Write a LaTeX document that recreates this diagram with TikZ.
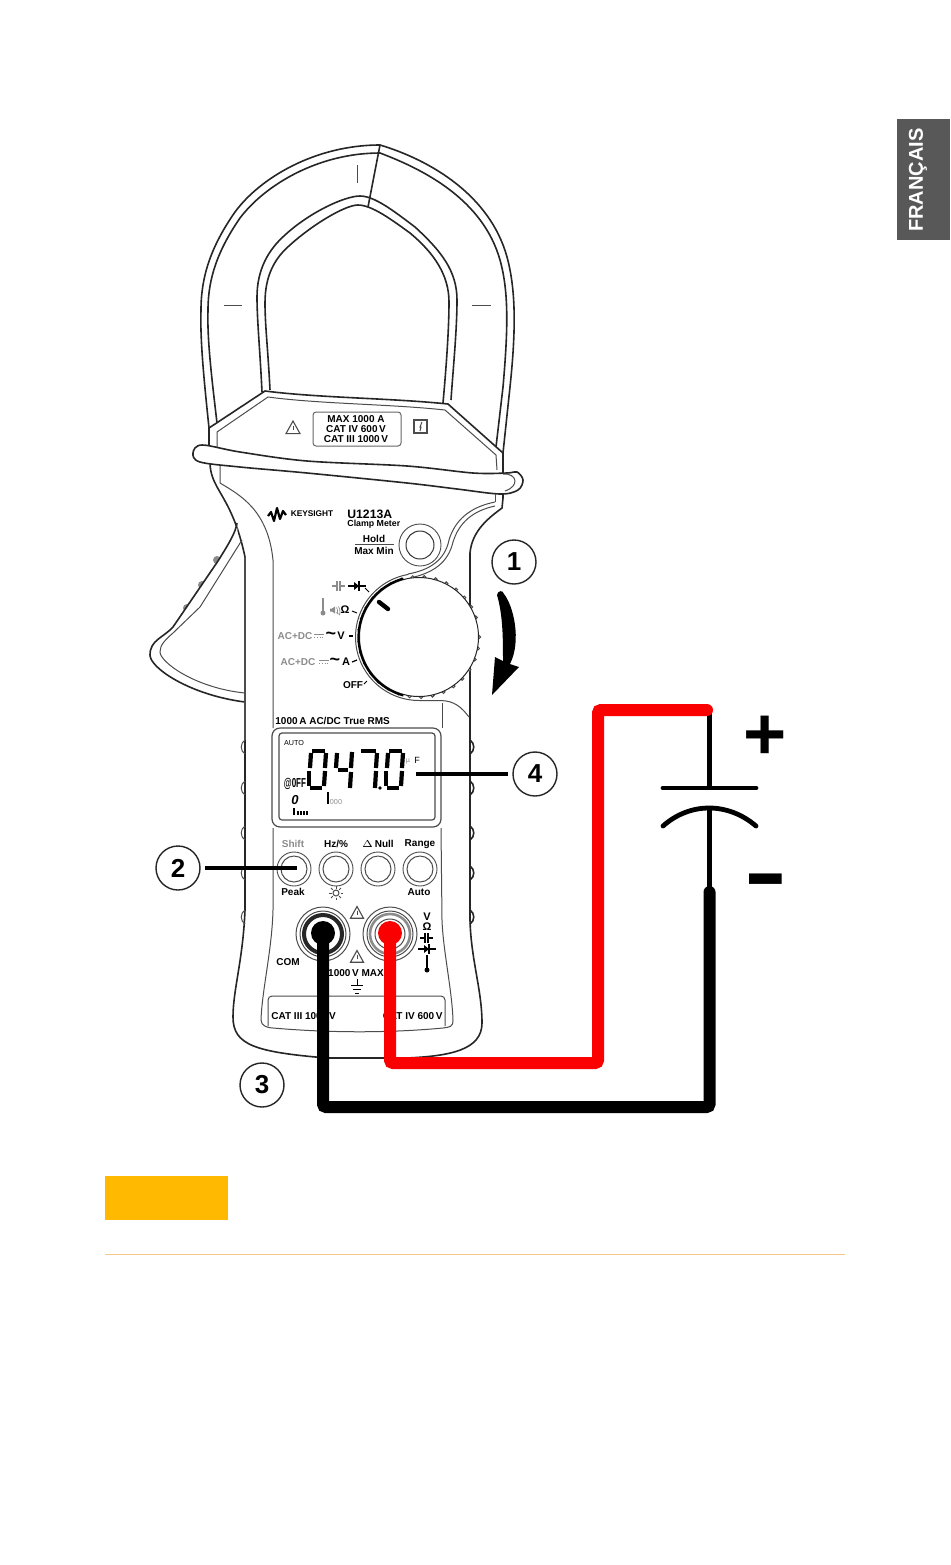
\documentclass[tikz,border=0pt]{standalone}
\usepackage{fontspec}
\setmainfont{Liberation Sans}
\definecolor{tabgray}{HTML}{585858}
\definecolor{warnyellow}{HTML}{FFB900}
\definecolor{ruleorange}{HTML}{F6C88C}
\definecolor{wirered}{HTML}{FA0000}
\newcommand{\fsz}[1]{\fontsize{#1}{#1}\selectfont}
\tikzset{
  bodyline/.style={draw=black!85,line width=0.8pt},
  thinline/.style={draw=black!70,line width=0.5pt},
  lbl/.style={inner sep=0pt,font=\bfseries\fsz{5}},
  graylbl/.style={lbl,text=black!45},
  callout/.style={circle,draw=black!85,line width=0.7pt,fill=white,minimum size=22pt,inner sep=0pt,font=\bfseries\fsz{13}},
  leader/.style={draw=black,line width=1.7pt},
  wire/.style={line width=6pt,line cap=round,rounded corners=1.5pt},
  lead/.style={draw=black,line width=2.4pt},
  lcdseg/.style={draw=black,line width=2.1pt},
}
\newcommand{\drawdigit}[2]{ % Parameters: left edge, segment list
  \foreach \ax/\ay/\bx/\by in #2
    \draw[lcdseg] (#1+\ax,\ay) -- (#1+\bx,\by);
}
\newcommand{\segzero}{5/751/18/751, 19/753/18/768, 18/771/17/786, 3/788/15/788, 2/786/2/771, 3/768/4/753}
\newcommand{\segfour}{4/753/3/768, 5/770/15/770, 19/752/18/768, 18/772/17/788}
\newcommand{\segseven}{3/751/18/751, 19/753/18/768, 18/771/17/788}
\newcommand{\drawwarn}[3]{ % Parameters: x, y, half width
  \draw[thinline,line width=0.55pt,fill=white] (#1,#2) ++(-#3,#3*0.8) -- ++(2*#3,0) -- ++(-#3,-1.8*#3) -- cycle;
  \draw[thinline] (#1,#2) ++(0,-#3*0.35) -- ++(0,#3*0.7);
}
\newcommand{\drawcap}[3]{ % Parameters: x, y, color
  \draw[draw=#3,line width=0.7pt] (#1,#2) ++(-7,0) -- ++(5,0) ++(0,-5) -- ++(0,10) ++(3,0) -- ++(0,-10) ++(0,5) -- ++(5,0);
}
\newcommand{\drawdiode}[2]{ % Parameters: x, y
  \fill[black] (#1,#2) ++(-3,-4) -- ++(5,4) -- ++(-5,4) -- cycle;
  \draw[draw=black,line width=0.7pt] (#1,#2) ++(-9,0) -- ++(18,0) ++(-7,-5) -- ++(0,10);
}
\newcommand{\drawthermo}[3]{ % Parameters: x, y, color
  \draw[draw=#3,line width=0.9pt] (#1,#2) -- ++(0,-15);
  \fill[#3] (#1,#2) circle[radius=2.5];
}
\newcommand{\drawdcsign}[2]{ % Parameters: x, y
  \draw[draw=black!45,line width=0.4pt] (#1,#2) ++(-5,-1.5) -- ++(10,0);
  \draw[draw=black!45,line width=0.4pt,densely dotted] (#1,#2) ++(-5,1.5) -- ++(10,0);
}
\newcommand{\drawbeeper}[2]{ % Parameters: x, y
  \fill[black!45] (#1,#2) ++(-4,-1.5) -- ++(2,0) -- ++(3,-2) -- ++(0,7) -- ++(-3,-2) -- ++(-2,0) -- cycle;
  \draw[draw=black!45,line width=0.35pt] (#1,#2) ++(2.5,-2.5) .. controls +(1.5,1) and +(1.5,4) .. +(0,5);
  \draw[draw=black!45,line width=0.35pt] (#1,#2) ++(4.5,-3.5) .. controls +(2,2) and +(2,5) .. +(0,7);
}
\begin{document}
\begin{tikzpicture}[x=0.5pt,y=-0.5pt]
  \useasboundingbox (0,0) rectangle (950,1565);
  \fill[white] (0,0) rectangle (950,1565);
  % side tab
  \fill[tabgray] (897,119) rectangle (950,240);
  \node[inner sep=0pt,rotate=90,text=white,font=\bfseries\fsz{10}] (tabtext) at (918,180) {FRANÇAIS};
  % jaw
  \draw[bodyline] (209,428) .. controls (204,380) and (200,340) .. (201,310) .. controls (201,275) and (212,245) .. (235,212) .. controls (260,178) and (315,145) .. (380,145) .. controls (430,160) and (490,195) .. (507,257) .. controls (516,290) and (516,330) .. (510,387) -- (503,453);
  \draw[bodyline] (217,423) .. controls (212,380) and (207,340) .. (208,310) .. controls (208,278) and (218,250) .. (240,218) .. controls (265,185) and (318,153) .. (380,153) .. controls (425,170) and (483,200) .. (500,260) .. controls (509,292) and (508,330) .. (503,387) -- (496,447);
  \draw[bodyline] (262,392) .. controls (260,350) and (257,320) .. (257,297) .. controls (257,270) and (268,250) .. (285,235) .. controls (310,212) and (345,196) .. (360,196) .. controls (375,196) and (395,212) .. (415,227) .. controls (440,250) and (457,270) .. (457,300) .. controls (457,330) and (453,370) .. (451,400);
  \draw[bodyline] (270,390) .. controls (268,350) and (265,325) .. (265,303) .. controls (265,275) and (275,258) .. (290,245) .. controls (312,225) and (345,205) .. (358,205) .. controls (372,205) and (392,220) .. (410,233) .. controls (434,253) and (449,275) .. (449,302) .. controls (449,330) and (446,370) .. (443,403);
  \draw[bodyline] (380,145) -- (368,207);
  \draw[thinline] (357,165) -- ++(0,18);
  \draw[thinline] (224,305) -- ++(18,0);
  \draw[thinline] (472,305) -- ++(19,0);
  % head of the meter
  \draw[bodyline] (209,462) -- (209,428) -- (265,391) .. controls (320,398) and (390,398) .. (448,404) -- (503,453) -- (503,498);
  \draw[thinline] (217,447) -- (217,432) -- (268,397) .. controls (320,404) and (390,404) .. (445,410) -- (496,455) -- (497,470);
  \node[draw=black!60,line width=0.5pt,rounded corners=1.5pt,fill=white,minimum width=44pt,minimum height=17pt,inner sep=0pt] (ratingbox) at (357,429) {};
  \node[lbl] (ratinga) at (356,419) {MAX 1000 A};
  \node[lbl] (ratingb) at (356,429) {CAT IV 600\,V};
  \node[lbl] (ratingc) at (356,439) {CAT III 1000\,V};
  \drawwarn{293}{428}{7}
  \draw[thinline,line width=0.55pt] (414,420) rectangle (427,433);
  \draw[thinline] (422,422) -- (420,427) -- (421,427) -- (420,431);
  % body outline
  \draw[bodyline] (210,462) .. controls (210,490) and (232,495) .. (245,557) -- (245,910) .. controls (243,960) and (233,990) .. (233,1017) .. controls (233,1045) and (255,1052) .. (327,1058) -- (407,1058) .. controls (450,1056) and (482,1050) .. (482,1023) .. controls (482,990) and (471,960) .. (470,920) -- (470,553) .. controls (472,530) and (490,517) .. (502,508) -- (503,498);
  \foreach \y in {747,788,833,873,917} {
    \draw[thinline] (245,\y-7) .. controls (240,\y-4) and (240,\y+4) .. (245,\y+7);
    \draw[bodyline] (470,\y-7) .. controls (475,\y-4) and (475,\y+4) .. (470,\y+7);
  }
  % trigger
  \foreach \tx/\ty in {217/560,202/585,187/608}
    \fill[black!45] (\tx,\ty) circle[radius=4];
  \draw[bodyline,fill=white] (237,523) .. controls (236,532) and (228,545) .. (218,561) -- (173,627) .. controls (163,638) and (150,640) .. (150,655) .. controls (150,668) and (190,695) .. (245,702);
  \draw[thinline] (242,540) -- (200,607) -- (173,633) .. controls (165,640) and (160,645) .. (160,652) .. controls (160,662) and (195,688) .. (245,693);
  \draw[thinline,line width=0.6pt] (245,557) -- (245,740);
  % front panel
  \draw[thinline] (220,463) -- (220,483) .. controls (240,495) and (268,510) .. (273,560) -- (273,728);
  \draw[thinline] (273,828) -- (273,910) .. controls (272,950) and (262,990) .. (261,1020) .. controls (261,1026) and (268,1028) .. (273,1028) .. controls (330,1033) and (390,1033) .. (443,1028) .. controls (450,1027) and (453,1027) .. (453,1020) .. controls (452,990) and (443,950) .. (442,920) -- (441,828);
  \draw[thinline,rounded corners=2pt] (268,1026) -- (268,996) -- (445,996) -- (445,1026);
  % flange
  \draw[bodyline,fill=white] plot[smooth cycle,tension=0.55] coordinates {(202,445) (240,452) (307,461) (407,466) (473,473) (507,473) (517,472) (523,480) (518,490) (500,494) (457,489) (407,483) (307,473) (240,467) (200,462) (193,453)};
  \draw[thinline] (503,474) .. controls (517,473) and (520,486) .. (505,491);
  \draw[bodyline] (503,494) -- (503,498);
  \draw[thinline] (495,494) -- (495,502);
  % dial
  \draw[thinline] (495,502) .. controls (470,507) and (455,520) .. (449,540) .. controls (445,560) and (430,570) .. (408,574)
    -- plot[domain=260:90,samples=40] ({419+63.5*cos(\x)},{637+63.5*sin(\x)}) -- (440,700.5) .. controls (455,700.5) and (462,708) .. (469,717);
  \draw[thinline] (495,506) .. controls (472,511) and (459,523) .. (453,542) .. controls (448,563) and (433,573) .. (410,578);
  \foreach \a in {0,11,...,350}
    \draw[thinline,fill=white] (419,637) ++(\a:60) circle[radius=1.6];
  \fill[white] (419,637) circle[radius=59.5];
  \draw[bodyline,line width=0.5pt] (419,637) circle[radius=59.5];
  \draw[draw=black,line width=1.1pt] plot[domain=255:105,samples=40] ({419+60.5*cos(\x)},{637+60.5*sin(\x)});
  \draw[draw=black,line width=2.2pt,line cap=round] (379,602) -- (388,609);
  \draw[thinline] (442,703) -- (442,728);
  % logo and hold button
  \draw[draw=black,line width=1.1pt,line join=round] (268,516) -- (271,512) -- (274,521) -- (277,508) -- (280,519) -- (283,511) -- (286,515);
  \node[lbl,font=\bfseries\fsz{4.15}] (brand) at (312,514) {KEYSIGHT};
  \node[lbl,font=\bfseries\fsz{6.1},anchor=west] (model) at (347,514) {U1213A};
  \node[lbl,font=\bfseries\fsz{4.4},anchor=west] (modeltype) at (347,524) {Clamp Meter};
  \node[lbl] (hold) at (374,539) {Hold};
  \draw[thinline,line width=0.5pt] (355,544) -- (394,544);
  \node[lbl] (maxmin) at (374,551) {Max Min};
  \node[circle,draw=black!70,line width=0.45pt,minimum size=21pt,inner sep=0pt] (holdring) at (420,545) {};
  \node[circle,draw=black!80,line width=0.5pt,minimum size=14pt,inner sep=0pt] (holdkey) at (420,545) {};
  % switch labels
  \drawcap{339}{586}{black!45}
  \drawdiode{357}{586}
  \draw[draw=black,line width=0.5pt] (365,588) -- (369,592);
  \drawthermo{323}{613}{black!45}
  \drawbeeper{334}{610}
  \node[lbl,font=\bfseries\fsz{5.5}] (ohm) at (345,610) {Ω};
  \draw[draw=black,line width=0.5pt] (352,611) -- (357,613);
  \node[graylbl] (acdcv) at (295,636) {AC+DC};
  \drawdcsign{319}{636}
  \node[lbl,font=\bfseries\fsz{9}] (tildev) at (331,636) {\textasciitilde};
  \node[lbl,font=\bfseries\fsz{5.5}] (volt) at (341,636) {V};
  \draw[draw=black,line width=1pt] (349,636) -- (353,636);
  \node[graylbl] (acdca) at (298,662) {AC+DC};
  \drawdcsign{324}{662}
  \node[lbl,font=\bfseries\fsz{9}] (tildea) at (335,662) {\textasciitilde};
  \node[lbl,font=\bfseries\fsz{5.5}] (amp) at (346,662) {A};
  \draw[draw=black,line width=0.6pt] (352,662) -- (357,660);
  \node[lbl] (off) at (353,685) {OFF};
  \draw[draw=black,line width=0.5pt] (364,684) -- (367,681);
  \node[lbl,anchor=west] (headline) at (275,721) {1000\,A AC/DC True RMS};
  % display
  \draw[thinline,line width=0.6pt,rounded corners=4pt] (272,728) rectangle (441,827);
  \draw[thinline,line width=0.6pt,rounded corners=1.5pt] (279,733) rectangle (435,820);
  \node[lbl,font=\fsz{3.6}] (auto) at (294,743) {AUTO};
  \drawdigit{307}{\segzero}
  \drawdigit{333}{\segfour}
  \drawdigit{358}{\segseven}
  \fill[black] (380,788) circle[radius=1.8];
  \drawdigit{384}{\segzero}
  \node[graylbl,font=\fsz{3.6}] (micro) at (408,761) {µ};
  \node[lbl,font=\fsz{4.5}] (farad) at (417,760) {F};
  \node[lbl,font=\bfseries\fsz{6.5}] (autooff) at (295,784) {\scalebox{0.62}[1]{@0FF}};
  \node[lbl,font=\bfseries\itshape\fsz{6.5}] (smallzero) at (295,800) {0};
  \draw[draw=black,line width=0.8pt] (294,808) -- (294,815);
  \foreach \t in {298,301,304,307}
    \draw[draw=black,line width=0.6pt] (\t,811) -- (\t,815);
  \draw[draw=black,line width=0.6pt] (328,792) -- (328,804);
  \node[graylbl,font=\fsz{3.6}] (smallbars) at (336,802) {000};
  % keys
  \foreach \kx/\kname in {294/keyshift,336/keyhz,378/keynull,420/keyrange} {
    \node[circle,draw=black!70,line width=0.45pt,minimum size=17pt,inner sep=0pt] (\kname) at (\kx,869) {};
    \draw[thinline] (\kx,869) circle[radius=13];
  }
  \node[graylbl] (shift) at (293,844) {Shift};
  \node[lbl] (hz) at (336,844) {Hz/\%};
  \node[lbl] (null) at (378,844) {\raisebox{0.3pt}{\fsz{3.5}$\Delta$}\,Null};
  \node[lbl] (range) at (420,844) {Range};
  \node[lbl] (peak) at (293,892) {Peak};
  \draw[thinline] (336,893) circle[radius=3];
  \foreach \a in {0,45,...,315}
    \draw[thinline] (336,893) ++(\a:4.5) -- ++(\a:2.5);
  \node[lbl] (autokey) at (419,892) {Auto};
  % jacks
  \draw[thinline,line width=0.5pt] (323,934) circle[radius=27];
  \draw[bodyline,line width=2pt] (323,934) circle[radius=19];
  \draw[thinline] (323,934) circle[radius=23];
  \draw[thinline,line width=0.5pt] (390,934) circle[radius=27];
  \draw[draw=black!45,line width=1.3pt] (390,934) circle[radius=20];
  \draw[thinline] (390,934) circle[radius=23];
  \draw[thinline] (390,934) circle[radius=15];
  \drawwarn{357}{913}{6.5}
  \drawwarn{357}{957}{6.5}
  \node[lbl] (com) at (288,962) {COM};
  \node[lbl] (maxvolt) at (356,973) {1000\,V MAX};
  \draw[draw=black,line width=0.5pt] (357,979) -- (357,985) ++(-6,0) -- ++(12,0) ++(-10,4) -- ++(8,0) ++(-6,4) -- ++(4,0);
  \node[lbl,font=\bfseries\fsz{5.5}] (symv) at (427,917) {V};
  \node[lbl,font=\bfseries\fsz{5.5}] (symohm) at (427,927) {Ω};
  \drawcap{427}{938}{black}
  \drawdiode{427}{949}
  \drawthermo{427}{970}{black}
  \node[lbl,anchor=west] (catleft) at (271,1016) {CAT III 1000\,V};
  \node[lbl,anchor=east] (catright) at (443,1016) {CAT IV 600\,V};
  % turning arrow
  \fill[black] (497,595) .. controls (498,590) and (503,590) .. (504,594) .. controls (513,605) and (522,640) .. (510,664) -- (519,667) -- (492,695) -- (495,657) -- (503,661) .. controls (503,640) and (503,615) .. (497,595) -- cycle;
  % callouts
  \node[callout] (callone) at (514,562) {1};
  \node[callout] (calltwo) at (178,868) {2};
  \node[callout] (callthree) at (262,1085) {3};
  \node[callout] (callfour) at (535,774) {4};
  \coordinate (tiptwo) at (297,868);
  \coordinate (tipfour) at (416,774);
  \draw[leader,shorten <=2pt] (calltwo) -- (tiptwo);
  \draw[leader,shorten <=2pt] (callfour) -- (tipfour);
  % capacitor
  \coordinate (redjack) at (390,933);
  \coordinate (comjack) at (323,933);
  \coordinate (redend) at (707,710);
  \coordinate (leadtop) at (709.5,710);
  \coordinate (blackend) at (709.5,892);
  \coordinate (platetop) at (709.5,788);
  \coordinate (platelow) at (709.5,807);
  \draw[lead] (leadtop) -- (platetop);
  \draw[lead] (platelow) -- (blackend);
  \draw[lead,line cap=round] (663,788) -- (756,788);
  \draw[lead,line cap=round] (663,826) .. controls (690,802) and (728,802) .. (756,826);
  \node[inner sep=0pt,font=\bfseries\fsz{37}] (plus) at (765.5,738) {+};
  \node[inner sep=0pt,font=\bfseries\fsz{33}] (minus) at (765.5,891) {\scalebox{1}[1.6]{–}};
  % wires
  \fill[wirered] (redjack) circle[radius=12];
  \fill[black] (comjack) circle[radius=12];
  \draw[wire,draw=wirered] (redjack) -- (390,1063) -| (598,710) -- (redend);
  \draw[wire,draw=black] (comjack) -- (323,1107) -| (blackend);
  % caution bar
  \fill[warnyellow] (105,1176) rectangle (228,1220);
  \draw[draw=ruleorange,line width=0.5pt] (105,1254) -- (845,1254);
\end{tikzpicture}
\end{document}
